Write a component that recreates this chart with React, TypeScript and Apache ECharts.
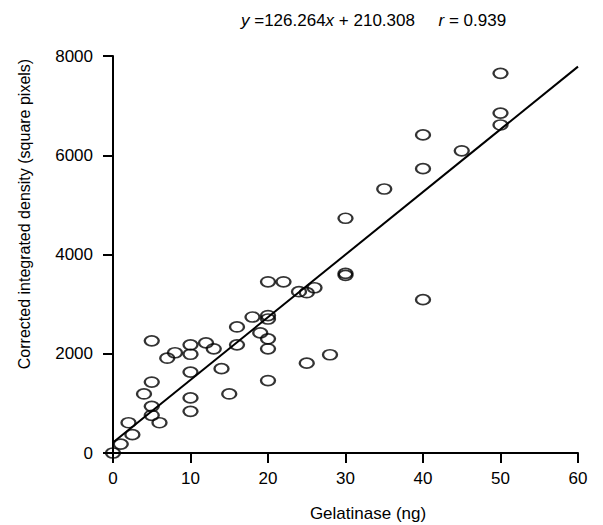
import React, { useEffect, useRef } from "react";
import * as echarts from "echarts";

const gelatinase: number[] = [0, 1, 2, 2.5, 4, 5, 5, 5, 6, 5, 7, 8, 10, 10, 10, 10, 10, 12, 13, 14, 15, 16, 16, 18, 19, 20, 20, 20, 20, 20, 20, 22, 24, 25, 26, 25, 28, 30, 30, 30, 35, 40, 40, 40, 45, 50, 50, 50];
const density: number[] = [0, 180, 610, 370, 1190, 1430, 940, 760, 610, 2260, 1910, 2020, 2180, 1990, 1630, 1110, 840, 2220, 2100, 1700, 1190, 2540, 2180, 2740, 2420, 2770, 2700, 2300, 2100, 1460, 3450, 3450, 3250, 3230, 3330, 1810, 1980, 4730, 3620, 3580, 5320, 6410, 5730, 3090, 6090, 7650, 6850, 6610];

const slope = 126.264;
const intercept = 210.308;
const r = 0.939;
const fitX: number[] = [0, 60];

const xTitle = "Gelatinase (ng)";
const yTitle = "Corrected integrated density (square pixels)";

const FONT = "'Liberation Sans', Arial, Helvetica, sans-serif";
const FS = 17;

export default function App() {
  const ref = useRef<HTMLDivElement>(null);
  useEffect(() => {
    if (!ref.current) return;
    const chart = echarts.init(ref.current, undefined, { renderer: "svg" });
    const points = gelatinase.map((x, i) => [x, density[i]]);
    const fit = fitX.map((x) => [x, slope * x + intercept]);
    chart.setOption({
      animation: false,
      backgroundColor: "#fff",
      textStyle: { fontFamily: FONT, color: "#000" },
      title: {
        text: `{i|y} =${slope}{i|x} + ${intercept}     {i|r} = ${r}`,
        left: 236,
        top: 7,
        textStyle: {
          fontFamily: FONT,
          fontSize: FS,
          fontWeight: "normal",
          color: "#000",
          rich: {
            i: { fontFamily: FONT, fontSize: FS, fontStyle: "italic", color: "#000" },
          },
        },
      },
      graphic: [
        {
          type: "text",
          x: 368,
          y: 513,
          style: {
            text: xTitle,
            fontFamily: FONT,
            fontSize: FS,
            fill: "#000",
            align: "center",
            verticalAlign: "middle",
          },
        },
        {
          type: "text",
          x: 24,
          y: 214,
          rotation: Math.PI / 2,
          style: {
            text: yTitle,
            fontFamily: FONT,
            fontSize: 16,
            fill: "#000",
            align: "center",
            verticalAlign: "middle",
          },
        },
      ],
      grid: { left: 113, right: 25, top: 56, bottom: 72, containLabel: false },
      xAxis: {
        type: "value",
        min: 0,
        max: 60,
        interval: 10,
        axisLine: { show: true, onZero: false, lineStyle: { color: "#000", width: 2 } },
        axisTick: { show: true, length: 10, lineStyle: { color: "#000", width: 2 } },
        axisLabel: { fontFamily: FONT, fontSize: FS, color: "#000", margin: 17 },
        splitLine: { show: false },
      },
      yAxis: {
        type: "value",
        min: 0,
        max: 8000,
        interval: 2000,
        axisLine: { show: true, onZero: false, lineStyle: { color: "#000", width: 2 } },
        axisTick: { show: true, length: 10, lineStyle: { color: "#000", width: 2 } },
        axisLabel: {
          fontFamily: FONT,
          fontSize: FS,
          color: "#000",
          margin: 20,
          formatter: (v: number) => String(v),
        },
        splitLine: { show: false },
      },
      series: [
        {
          type: "line",
          data: fit,
          showSymbol: false,
          symbol: "none",
          lineStyle: { color: "#000", width: 2 },
          z: 2,
        },
        {
          type: "scatter",
          data: points,
          symbol: "path://M0 5A5 5 0 1 1 10 5A5 5 0 1 1 0 5Z",
          symbolSize: [14, 10],
          itemStyle: { color: "rgba(255,255,255,0)", borderColor: "#000", borderWidth: 2 },
          z: 3,
        },
      ],
    });
    return () => chart.dispose();
  }, []);
  return (
    <div
      ref={ref}
      style={{ position: "fixed", left: 0, top: 0, width: 603, height: 525 }}
    />
  );
}
